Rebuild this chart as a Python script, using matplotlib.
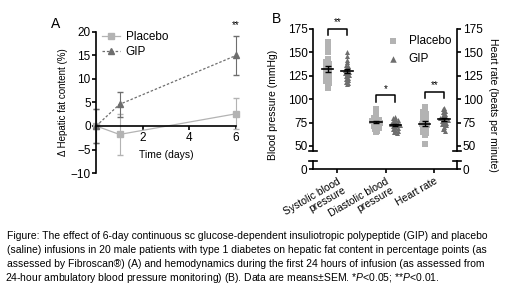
import numpy as np
import matplotlib
matplotlib.use("Agg")
import matplotlib.pyplot as plt
from matplotlib.lines import Line2D

plt.rcParams['font.family'] = ['Liberation Sans', 'DejaVu Sans']
plt.rcParams['mathtext.fontset'] = 'custom'
plt.rcParams['mathtext.it'] = 'Liberation Sans:italic'
plt.rcParams['mathtext.rm'] = 'Liberation Sans'

# ---- panel A data ----
days = [0, 1, 6]
placebo_fat = [0, -1.8, 2.6]
placebo_fat_sem = [3.7, 4.3, 3.3]
gip_fat = [0, 4.6, 15.0]
gip_fat_sem = [3.7, 2.7, 4.2]

# ---- panel B data ----
categories = ["Systolic blood\npressure", "Diastolic blood\npressure", "Heart rate"]
placebo_sys = [161, 155, 150, 143, 140, 138, 136, 135, 133, 132, 130, 128, 127, 125, 123, 121, 119, 117, 114, 112]
gip_sys = [150, 146, 142, 140, 137, 135, 133, 131, 130, 129, 128, 127, 126, 125, 123, 121, 120, 118, 117, 116]
placebo_dia = [90, 87, 84, 82, 80, 79, 78, 77, 76, 76, 75, 74, 73, 72, 71, 70, 69, 68, 66, 65]
gip_dia = [81, 80, 79, 78, 77, 76, 75, 74, 73, 73, 72, 72, 71, 70, 69, 68, 67, 66, 65, 64]
placebo_hr = [92, 89, 86, 84, 82, 80, 78, 76, 75, 74, 73, 72, 71, 70, 68, 67, 65, 64, 62, 52]
gip_hr = [91, 89, 87, 86, 84, 83, 82, 80, 79, 78, 78, 77, 76, 75, 74, 73, 72, 70, 68, 66]
sig_labels = ["**", "*", "**"]
bracket_y = [175, 104, 108]

placebo_col = "#b3b3b3"
gip_col = "#6e6e6e"

caption_lines = [
    "Figure: The effect of 6-day continuous sc glucose-dependent insuliotropic polypeptide (GIP) and placebo",
    "(saline) infusions in 20 male patients with type 1 diabetes on hepatic fat content in percentage points (as",
    "assessed by Fibroscan\u00ae) (A) and hemodynamics during the first 24 hours of infusion (as assessed from",
    "24-hour ambulatory blood pressure monitoring) (B). Data are means\u00b1SEM. *$\\it{P}$<0.05; **$\\it{P}$<0.01.",
]


def swarm(vals, binw=3.0, step=0.05):
    vals = np.asarray(vals, dtype=float)
    offs = np.zeros(len(vals))
    bins = np.floor(vals / binw)
    for b in np.unique(bins):
        idx = np.where(bins == b)[0]
        n = len(idx)
        offs[idx] = (np.arange(n) - (n - 1) / 2) * step
    return offs


fig = plt.figure(figsize=(5.2, 2.92), dpi=100)

# ================= Panel A =================
axA = fig.add_axes([0.185, 0.4075, 0.269, 0.483])
handles = []
for yv, ye, col, mk, ls, lab in [(placebo_fat, placebo_fat_sem, placebo_col, "s", "-", "Placebo"),
                                 (gip_fat, gip_fat_sem, gip_col, "^", (0, (2, 1.5)), "GIP")]:
    eb = axA.errorbar(days, yv, yerr=ye, color=col, marker=mk, ms=4, lw=0.9, ls=ls,
                      capsize=2, elinewidth=0.8)
    for art in eb.lines[0:1] + tuple(eb.lines[1]) + tuple(eb.lines[2]):
        art.set_clip_on(False)
    handles.append(Line2D([], [], color=col, marker=mk, ms=4, lw=0.9, ls=ls, label=lab))
axA.set_xlim(0, 6)
axA.set_ylim(-10, 20)
axA.set_xticks([2, 4, 6])
axA.set_yticks([-10, -5, 0, 5, 10, 15, 20])
axA.spines['top'].set_visible(False)
axA.spines['right'].set_visible(False)
axA.spines['bottom'].set_position(('data', 0))
for sp in axA.spines.values():
    sp.set_linewidth(1.2)
axA.tick_params(labelsize=8.5, width=1.2, length=3, pad=1)
axA.set_xlabel("Time (days)", fontsize=7.5)
axA.xaxis.set_label_coords(0.5, 0.165)
axA.set_ylabel("\u0394 Hepatic fat content (%)", fontsize=7, labelpad=2)
axA.text(6, 20.5, "**", ha="center", va="bottom", fontsize=7)
axA.legend(handles=handles, loc="upper left", frameon=False, fontsize=8.5, handlelength=1.5,
           handletextpad=0.5, borderaxespad=0.1, bbox_to_anchor=(0.0, 1.05), labelspacing=0.3)
fig.text(0.098, 0.905, "A", fontsize=10)

# ================= Panel B =================
axB = fig.add_axes([0.602, 0.483, 0.277, 0.418])
axB0 = fig.add_axes([0.602, 0.421, 0.277, 0.028])
x = np.arange(len(categories))
groups = [(placebo_sys, gip_sys), (placebo_dia, gip_dia), (placebo_hr, gip_hr)]
off = 0.2
for i, (pv, gv) in enumerate(groups):
    for vals, sgn, col, mk, lab in [(pv, -1, placebo_col, "s", "Placebo"), (gv, 1, gip_col, "^", "GIP")]:
        xs = i + sgn * off + swarm(vals)
        axB.scatter(xs, vals, s=13, marker=mk, color=col, lw=0, label=lab if i == 0 else None, zorder=2)
        m = np.mean(vals)
        sem = np.std(vals, ddof=1) / np.sqrt(len(vals))
        axB.plot([i + sgn * off - 0.12, i + sgn * off + 0.12], [m, m], color="black", lw=1.2, zorder=3)
        axB.errorbar(i + sgn * off, m, yerr=sem, color="black", capsize=2, elinewidth=1, lw=0, zorder=3)
    by = bracket_y[i]
    axB.plot([i - off, i - off, i + off, i + off], [by - 7, by, by, by - 7], color="black", lw=1.1, clip_on=False)
    axB.text(i, by + 1.5, sig_labels[i], ha="center", va="bottom", fontsize=7)

for ax in (axB, axB0):
    ax.set_xlim(-0.5, 2.47)
    ax.spines['top'].set_visible(False)
    for sp in ax.spines.values():
        sp.set_linewidth(1.2)
    ax.tick_params(labelsize=8.5, width=1.2, length=3, pad=1)
axB.set_ylim(44.7, 175)
axB.set_yticks([50, 75, 100, 125, 150, 175])
axB.spines['bottom'].set_visible(False)
axB.set_xticks([])
axB0.set_ylim(0, 8.5)
axB0.set_yticks([0])
axB0.set_xticks(x)
axB0.set_xticklabels(categories, rotation=30, ha="right", rotation_mode="anchor", fontsize=7.5,
                     linespacing=1.0)
axB0.tick_params(axis="x", length=3, pad=2)

twB = axB.twinx()
twB.set_ylim(axB.get_ylim())
twB.set_yticks([50, 75, 100, 125, 150, 175])
twB0 = axB0.twinx()
twB0.set_ylim(axB0.get_ylim())
twB0.set_yticks([0])
for ax in (twB, twB0):
    ax.spines['top'].set_visible(False)
    ax.spines['bottom'].set_visible(False)
    ax.spines['left'].set_visible(False)
    ax.spines['right'].set_linewidth(1.2)
    ax.tick_params(labelsize=8.5, width=1.2, length=3, pad=1)
axB.spines['right'].set_visible(False)
axB0.spines['right'].set_visible(False)

# break caps
for ax, ypos in ((axB, 0), (axB0, 1)):
    for xpos in (0, 1):
        ax.plot([xpos - 0.03, xpos + 0.03], [ypos, ypos], transform=ax.transAxes,
                color="black", lw=1.2, clip_on=False)

axB.set_ylabel("Blood pressure (mmHg)", fontsize=7.5)
axB.yaxis.set_label_coords(-0.245, 0.38)
twB.set_ylabel("Heart rate (beats per minute)", fontsize=7.5, rotation=270, va="bottom")
twB.yaxis.set_label_coords(1.215, 0.38)
axB.legend(loc="upper right", frameon=False, fontsize=8.5, handletextpad=0.3, markerscale=1.3,
           borderaxespad=0.1, bbox_to_anchor=(1.0, 1.0), labelspacing=0.5)
fig.text(0.523, 0.92, "B", fontsize=10)

# caption
for k, line in enumerate(caption_lines):
    xpos = 0.0095 if "$" in line else 0.013
    fig.text(xpos, 0.192 - k * 0.0475, line, fontsize=7.45, va="center", ha="left")

fig.savefig("out.png", dpi=100)
